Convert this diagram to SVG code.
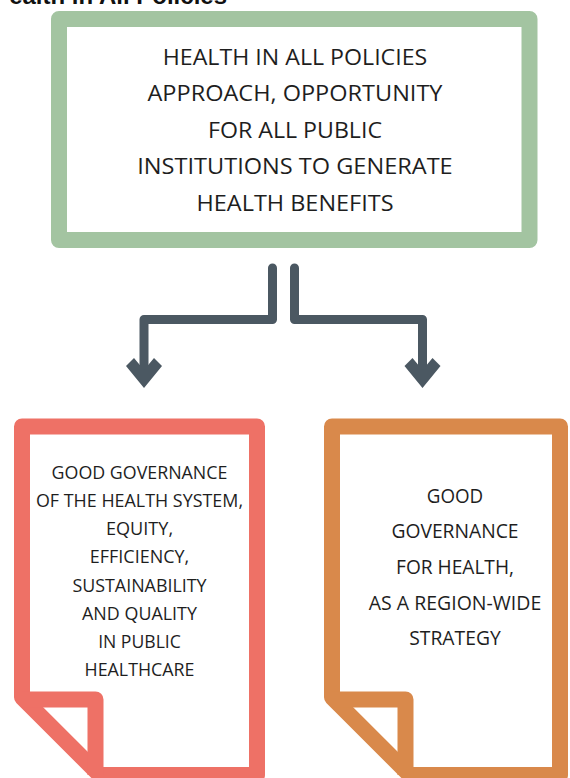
<svg xmlns="http://www.w3.org/2000/svg" width="570" height="778" viewBox="0 0 570 778">
<style>
.t{font-family:"Open Sans","Noto Sans","Liberation Sans",sans-serif;fill:#1e1e1e;text-anchor:middle}
.g{font-size:22.5px}
.r{font-size:18.5px}
.o{font-size:19.7px}
.box{fill:#fff;stroke-width:16;stroke-linejoin:round}
.conn{fill:none;stroke:#4b5862;stroke-width:9;stroke-linecap:round;stroke-linejoin:round}
.head{fill:#4b5862}
</style>
<rect width="570" height="778" fill="#fff"/>
<text x="227" y="4" font-family="'Liberation Sans',Arial,sans-serif" font-weight="bold" font-size="24" text-anchor="end" fill="#111">ealth in All Policies</text>

<g id="node-hiap">
<rect class="box" x="59" y="19" width="470.5" height="221" stroke="#a3c4a1"/>
<text class="t g" x="295" y="64.5" textLength="264.5" lengthAdjust="spacingAndGlyphs">HEALTH IN ALL POLICIES</text>
<text class="t g" x="295" y="101" textLength="295" lengthAdjust="spacingAndGlyphs">APPROACH, OPPORTUNITY</text>
<text class="t g" x="295" y="137.5" textLength="174" lengthAdjust="spacingAndGlyphs">FOR ALL PUBLIC</text>
<text class="t g" x="295" y="174" textLength="315.4" lengthAdjust="spacingAndGlyphs">INSTITUTIONS TO GENERATE</text>
<text class="t g" x="295" y="210.5" textLength="197" lengthAdjust="spacingAndGlyphs">HEALTH BENEFITS</text>
</g>

<g id="connectors">
<path class="conn" d="M272.5,268 V319.5 H144 V372"/>
<path class="conn" d="M294.5,268 V319.5 H422.5 V372"/>
<polygon class="head" points="144,388 126,366 134,358 144,370 154,358 162,366"/>
<polygon class="head" points="422.5,388 404.5,366 412.5,358 422.5,370 432.5,358 440.5,366"/>
</g>

<g id="node-health-system">
<path class="box" stroke="#ee7166" d="M22,697.3 V426.5 H257 V775 H99.7 Z"/>
<path fill="none" stroke="#ee7166" stroke-width="16" stroke-linejoin="round" d="M22,699.5 H95.5 V775"/>
<text class="t r" x="139.5" y="479" textLength="175.9" lengthAdjust="spacingAndGlyphs">GOOD GOVERNANCE</text>
<text class="t r" x="139.5" y="507.1" textLength="207.1" lengthAdjust="spacingAndGlyphs">OF THE HEALTH SYSTEM,</text>
<text class="t r" x="139.5" y="535.3" textLength="67.2" lengthAdjust="spacingAndGlyphs">EQUITY,</text>
<text class="t r" x="139.5" y="563.4" textLength="99.4" lengthAdjust="spacingAndGlyphs">EFFICIENCY,</text>
<text class="t r" x="139.5" y="591.6" textLength="134.2" lengthAdjust="spacingAndGlyphs">SUSTAINABILITY</text>
<text class="t r" x="139.5" y="619.7" textLength="114.9" lengthAdjust="spacingAndGlyphs">AND QUALITY</text>
<text class="t r" x="139.5" y="647.9" textLength="82.7" lengthAdjust="spacingAndGlyphs">IN PUBLIC</text>
<text class="t r" x="139.5" y="676" textLength="109.9" lengthAdjust="spacingAndGlyphs">HEALTHCARE</text>
</g>

<g id="node-region-wide">
<path class="box" stroke="#d9894b" d="M332,697.3 V426.5 H560 V775 H409.7 Z"/>
<path fill="none" stroke="#d9894b" stroke-width="16" stroke-linejoin="round" d="M332,699.5 H405.5 V775"/>
<text class="t o" x="455" y="502.5" textLength="56.5" lengthAdjust="spacingAndGlyphs">GOOD</text>
<text class="t o" x="455" y="538.2" textLength="127.2" lengthAdjust="spacingAndGlyphs">GOVERNANCE</text>
<text class="t o" x="455" y="573.9" textLength="117.9" lengthAdjust="spacingAndGlyphs">FOR HEALTH,</text>
<text class="t o" x="455" y="609.6" textLength="172.5" lengthAdjust="spacingAndGlyphs">AS A REGION-WIDE</text>
<text class="t o" x="455" y="645.3" textLength="91.5" lengthAdjust="spacingAndGlyphs">STRATEGY</text>
</g>
</svg>
